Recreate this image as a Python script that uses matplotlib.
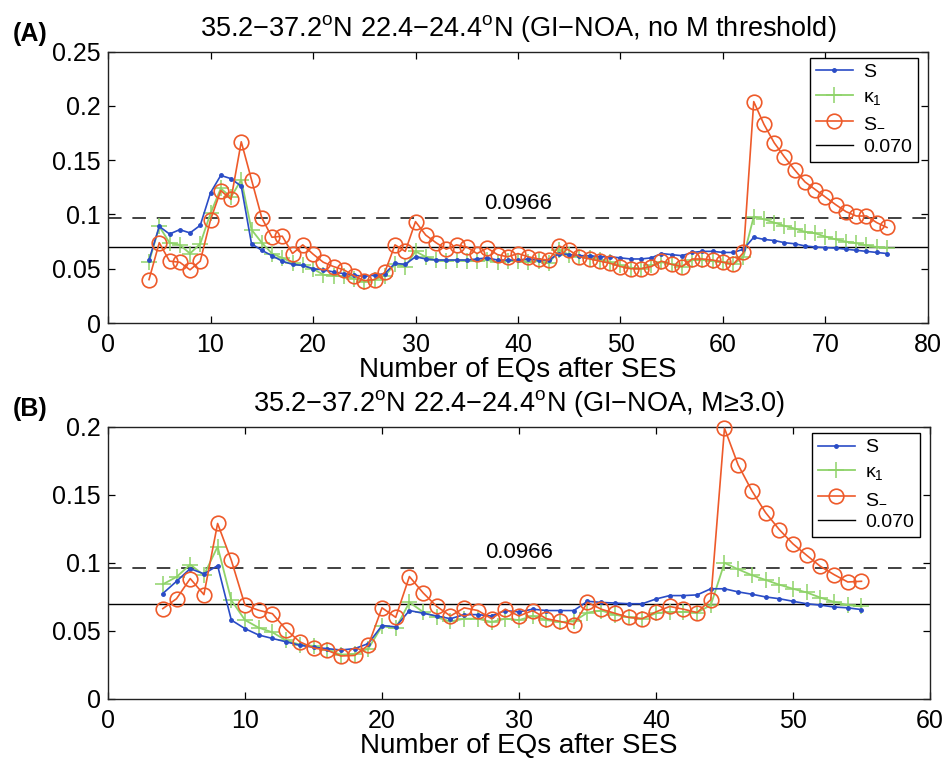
#!/usr/bin/env python3
"""Two-panel S / kappa_1 / S_- time series after an SES (GI-NOA catalogue)."""

import matplotlib

matplotlib.use("Agg")
import matplotlib.pyplot as plt
import numpy as np

# ---- panel A: no magnitude threshold ----
X_A = np.arange(4, 77)
S_A = [0.058, 0.089, 0.082, 0.086, 0.083, 0.090, 0.120, 0.136, 0.133, 0.126,
       0.073, 0.067, 0.062, 0.057, 0.054, 0.053, 0.050, 0.049, 0.047, 0.0455,
       0.044, 0.043, 0.044, 0.0455, 0.055, 0.054, 0.061, 0.059, 0.058, 0.058,
       0.058, 0.058, 0.059, 0.060, 0.058, 0.058, 0.058, 0.059, 0.058, 0.058,
       0.064, 0.063, 0.062, 0.062, 0.061, 0.061, 0.060, 0.059, 0.059, 0.060,
       0.064, 0.063, 0.062, 0.065, 0.066, 0.066, 0.065, 0.065, 0.068, 0.079,
       0.077, 0.076, 0.074, 0.073, 0.071, 0.070, 0.0695, 0.069, 0.068, 0.067,
       0.066, 0.065, 0.064]
K1_A = [0.056, 0.089, 0.074, 0.072, 0.064, 0.073, 0.101, 0.124, 0.116, 0.132,
        0.086, 0.074, 0.064, 0.060, 0.0555, 0.053, 0.050, 0.0445, 0.0436, 0.043,
        0.041, 0.038, 0.040, 0.0436, 0.054, 0.052, 0.066, 0.061, 0.058, 0.057,
        0.058, 0.057, 0.057, 0.058, 0.056, 0.057, 0.057, 0.056, 0.057, 0.055,
        0.067, 0.063, 0.061, 0.060, 0.058, 0.056, 0.053, 0.051, 0.050, 0.053,
        0.056, 0.054, 0.052, 0.058, 0.058, 0.057, 0.056, 0.054, 0.061, 0.098,
        0.0956, 0.0925, 0.0895, 0.087, 0.084, 0.0826, 0.0796, 0.077, 0.075, 0.0735,
        0.0716, 0.070, 0.069]
SM_A = [0.040, 0.074, 0.057, 0.056, 0.049, 0.057, 0.095, 0.122, 0.114, 0.167,
        0.132, 0.097, 0.079, 0.080, 0.064, 0.072, 0.0635, 0.056, 0.052, 0.049,
        0.0436, 0.039, 0.040, 0.0466, 0.072, 0.066, 0.0934, 0.081, 0.074, 0.068,
        0.072, 0.070, 0.064, 0.069, 0.063, 0.061, 0.064, 0.061, 0.059, 0.058,
        0.071, 0.067, 0.061, 0.059, 0.057, 0.055, 0.052, 0.050, 0.050, 0.052,
        0.057, 0.054, 0.052, 0.059, 0.059, 0.058, 0.056, 0.054, 0.065, 0.204,
        0.183, 0.166, 0.153, 0.141, 0.130, 0.123, 0.116, 0.109, 0.1026, 0.0986,
        0.0986, 0.0925, 0.088]

# ---- panel B: M >= 3.0 ----
X_B = np.arange(4, 56)
S_B = [0.0775, 0.0865, 0.0958, 0.092, 0.098, 0.058, 0.0517, 0.047, 0.0445, 0.042,
       0.0395, 0.038, 0.037, 0.036, 0.037, 0.0407, 0.054, 0.053, 0.065, 0.063,
       0.061, 0.059, 0.062, 0.062, 0.061, 0.065, 0.064, 0.066, 0.065, 0.065,
       0.065, 0.0718, 0.071, 0.0705, 0.070, 0.070, 0.0735, 0.076, 0.076, 0.0765,
       0.081, 0.081, 0.0787, 0.077, 0.075, 0.0737, 0.0718, 0.070, 0.069, 0.0676,
       0.067, 0.0657]
K1_B = [0.0843, 0.0897, 0.0988, 0.091, 0.112, 0.0726, 0.058, 0.0524, 0.049, 0.043,
        0.040, 0.039, 0.036, 0.0326, 0.033, 0.037, 0.0535, 0.052, 0.071, 0.064,
        0.060, 0.057, 0.059, 0.059, 0.0566, 0.059, 0.058, 0.061, 0.058, 0.0566,
        0.057, 0.0635, 0.065, 0.062, 0.060, 0.059, 0.063, 0.064, 0.064, 0.0635,
        0.069, 0.100, 0.0953, 0.091, 0.0875, 0.084, 0.081, 0.0783, 0.0745, 0.0713,
        0.069, 0.068]
SM_B = [0.0664, 0.0737, 0.0885, 0.0767, 0.129, 0.102, 0.0689, 0.0652, 0.0627, 0.051,
        0.042, 0.0375, 0.0358, 0.0316, 0.032, 0.0395, 0.067, 0.060, 0.090, 0.078,
        0.068, 0.061, 0.067, 0.065, 0.059, 0.066, 0.061, 0.065, 0.059, 0.057,
        0.0546, 0.071, 0.066, 0.063, 0.060, 0.059, 0.064, 0.068, 0.066, 0.0635,
        0.073, 0.199, 0.172, 0.153, 0.137, 0.1245, 0.114, 0.1056, 0.0975, 0.0914,
        0.086, 0.0865]

S_THRESHOLD = 0.070
K1_CRITICAL = 0.0966

TITLE_A = "35.2\u221237.2$^{\\rm o}$N 22.4\u221224.4$^{\\rm o}$N (GI\u2212NOA, no M threshold)"
TITLE_B = "35.2\u221237.2$^{\\rm o}$N 22.4\u221224.4$^{\\rm o}$N (GI\u2212NOA, M\u22653.0)"
XLABEL = "Number of EQs after SES"
LEGEND = ["S", "\u03ba$_1$", "S$_{-}$", "0.070"]

BLUE = "#2a4cc6"
GREEN = "#8fd36a"
RED = "#ee5a2a"


def draw_panel(ax, x, s, k1, sm, xlim, ylim, yticks, ylabels, title):
    ax.plot(x, s, color=BLUE, lw=1.2, marker=".", ms=5, label=LEGEND[0], zorder=3)
    ax.plot(x, k1, color=GREEN, lw=1.3, marker="+", ms=11, mew=1.1,
            label=LEGEND[1], zorder=2)
    ax.plot(x, sm, color=RED, lw=1.2, marker="o", ms=10.5, mfc="none", mew=1.2,
            label=LEGEND[2], zorder=4, clip_on=False)
    ax.axhline(S_THRESHOLD, color="black", lw=1.0, label=LEGEND[3], zorder=1)
    ax.axhline(K1_CRITICAL, color="#333333", lw=1.3, ls=(0, (7.5, 6)), zorder=1)
    ax.annotate(f"{K1_CRITICAL:.4f}", xy=(np.mean(xlim), K1_CRITICAL),
                xytext=(0, 3), textcoords="offset points",
                ha="center", va="bottom", fontsize=16)

    ax.set_xlim(*xlim)
    ax.set_ylim(*ylim)
    ax.set_yticks(yticks)
    ax.set_yticklabels(ylabels)
    ax.tick_params(direction="in", length=5, width=0.9, top=True, right=True,
                   labelsize=18, pad=5)
    ax.tick_params(axis="x", pad=7)
    for sp in ax.spines.values():
        sp.set_linewidth(1.0)
        sp.set_color("#222222")

    # x label baseline ~54 px below the axis, title baseline ~16 px above it
    h_px = ax.get_position().height * 760
    ax.set_xlabel(XLABEL, fontsize=20, va="baseline")
    ax.xaxis.set_label_coords(0.5, -54 / h_px)
    ax.text(0.5, 1 + 16 / h_px, title, transform=ax.transAxes,
            ha="center", va="baseline", fontsize=19.5)

    leg = ax.legend(loc="upper right", bbox_to_anchor=(0.988, 0.978),
                    borderaxespad=0, fontsize=14, handlelength=1.9,
                    labelspacing=0.36, borderpad=0.3, handletextpad=0.55,
                    fancybox=False, framealpha=1)
    leg.get_frame().set_edgecolor("black")
    leg.get_frame().set_linewidth(1.0)


def main():
    plt.rcParams.update(
        {
            "font.family": ["Liberation Sans", "DejaVu Sans"],
            "mathtext.fontset": "custom",
            "mathtext.rm": "Liberation Sans",
            "mathtext.it": "Liberation Sans",
            "mathtext.default": "regular",
            "axes.unicode_minus": False,
        }
    )

    fig = plt.figure(figsize=(9.45, 7.6), dpi=100)
    ax_a = fig.add_axes([0.1143, 0.575, 0.8677, 0.357])
    ax_b = fig.add_axes([0.1143, 0.0803, 0.8698, 0.358])

    draw_panel(ax_a, X_A, S_A, K1_A, SM_A, (0, 80), (0, 0.25),
               [0, 0.05, 0.1, 0.15, 0.2, 0.25],
               ["0", "0.05", "0.1", "0.15", "0.2", "0.25"], TITLE_A)
    draw_panel(ax_b, X_B, S_B, K1_B, SM_B, (0, 60), (0, 0.2),
               [0, 0.05, 0.1, 0.15, 0.2],
               ["0", "0.05", "0.1", "0.15", "0.2"], TITLE_B)

    fig.text(0.013, 0.955, "(A)", fontsize=18, fontweight="bold", va="center")
    fig.text(0.013, 0.462, "(B)", fontsize=18, fontweight="bold", va="center")

    fig.savefig("out.png", dpi=100)
    plt.close(fig)


if __name__ == "__main__":
    main()
